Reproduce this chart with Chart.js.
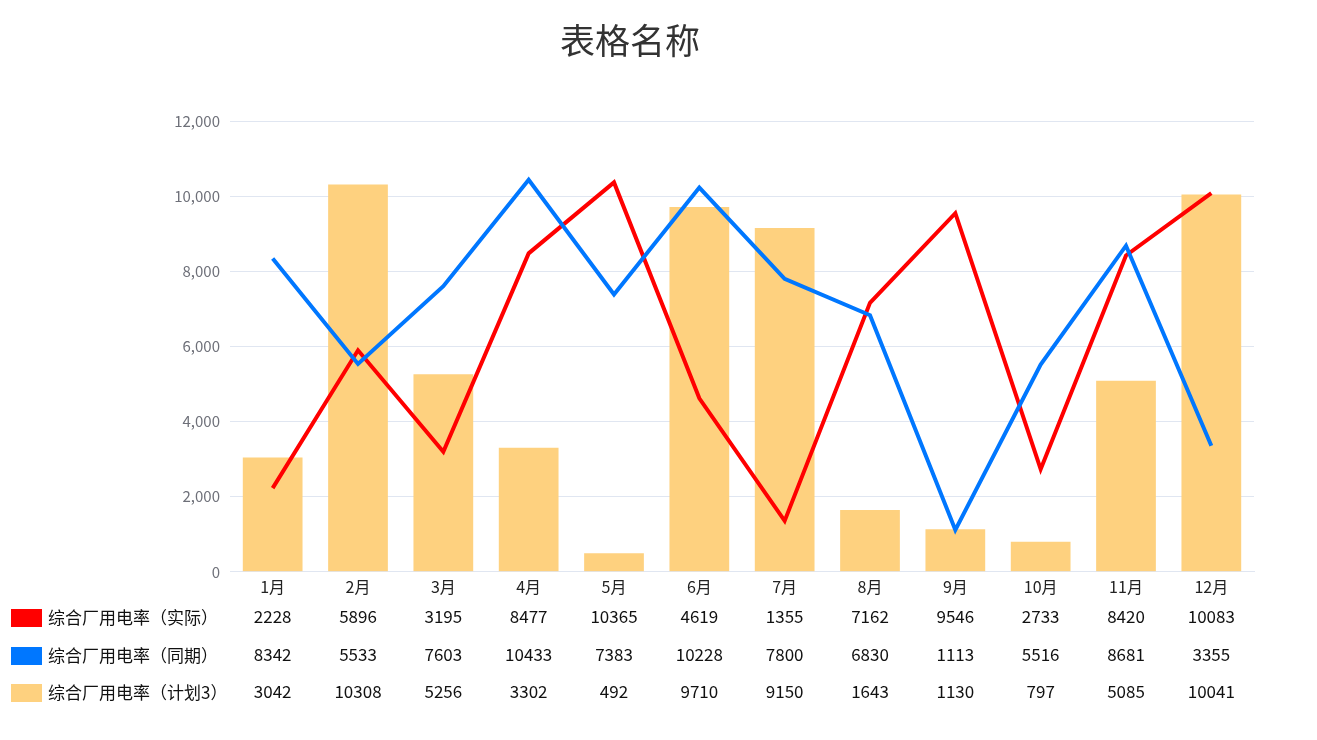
<!DOCTYPE html>
<html>
<head>
<meta charset="utf-8">
<script src="https://cdn.jsdelivr.net/npm/chart.js@4/dist/chart.umd.min.js"></script>
<style>
html,body{margin:0;padding:0;background:#fff;}
#wrap{width:1317px;height:740px;position:relative;}
</style>
</head>
<body>
<div id="wrap"><canvas id="c" width="1317" height="740"></canvas></div>
<script>
const titleText = '表格名称';
const months = ['1月','2月','3月','4月','5月','6月','7月','8月','9月','10月','11月','12月'];
const seriesNames = ['综合厂用电率（实际）','综合厂用电率（同期）','综合厂用电率（计划3）'];
const actualValues = [2228, 5896, 3195, 8477, 10365, 4619, 1355, 7162, 9546, 2733, 8420, 10083];
const samePeriodValues = [8342, 5533, 7603, 10433, 7383, 10228, 7800, 6830, 1113, 5516, 8681, 3355];
const plan3Values = [3042, 10308, 5256, 3302, 492, 9710, 9150, 1643, 1130, 797, 5085, 10041];
const yMax = 12000;
const yStep = 2000;

const FONT = '"Noto Sans CJK SC", "Noto Sans", sans-serif';
const RED = '#ff0000', BLUE = '#0077ff', YEL = '#fed17f';

const tablePlugin = {
  id: 'tablePlugin',
  afterDraw(chart) {
    const ctx = chart.ctx;
    const xs = chart.scales.x;
    ctx.save();
    ctx.fillStyle = '#333';
    ctx.font = '35px ' + FONT;
    ctx.textAlign = 'center';
    ctx.textBaseline = 'middle';
    ctx.fillText(titleText, 630, 41);
    const rows = [
      {name: seriesNames[0], color: RED, vals: actualValues, y: 618},
      {name: seriesNames[1], color: BLUE, vals: samePeriodValues, y: 656},
      {name: seriesNames[2], color: YEL, vals: plan3Values, y: 693}
    ];
    rows.forEach(r => {
      ctx.fillStyle = r.color;
      ctx.fillRect(11, r.y - 9, 31, 18);
      ctx.fillStyle = '#111';
      ctx.font = '17px ' + FONT;
      ctx.textAlign = 'left';
      ctx.textBaseline = 'middle';
      ctx.fillText(r.name, 48, r.y);
      ctx.textAlign = 'center';
      r.vals.forEach((v, i) => {
        ctx.fillText(String(v), xs.getPixelForValue(i), r.y - 1);
      });
    });
    ctx.restore();
  }
};

new Chart(document.getElementById('c'), {
  type: 'bar',
  data: {
    labels: months,
    datasets: [
      {type: 'line', label: seriesNames[0], data: actualValues, borderColor: RED, backgroundColor: RED,
       borderWidth: 4, pointRadius: 0, tension: 0, order: 2},
      {type: 'line', label: seriesNames[1], data: samePeriodValues, borderColor: BLUE, backgroundColor: BLUE,
       borderWidth: 4, pointRadius: 0, tension: 0, order: 1},
      {type: 'bar', label: seriesNames[2], data: plan3Values, backgroundColor: YEL,
       barPercentage: 0.7, categoryPercentage: 1.0, order: 3}
    ]
  },
  options: {
    responsive: false,
    animation: false,
    layout: {padding: {left: 150, right: 63, top: 121, bottom: 137}},
    plugins: {legend: {display: false}, title: {display: false}, tooltip: {enabled: false}},
    scales: {
      x: {
        grid: {display: false, drawTicks: false},
        border: {display: true, color: '#e0e6f1', width: 1},
        ticks: {color: '#222', font: {family: FONT, size: 16}, padding: 6, maxRotation: 0}
      },
      y: {
        min: 0, max: yMax,
        afterFit: s => { s.width = 80; },
        grid: {color: '#e0e6f1', drawTicks: false},
        border: {display: false},
        ticks: {stepSize: yStep, color: '#6e7079', font: {family: FONT, size: 15}, padding: 10,
          callback: v => v.toLocaleString('en-US')}
      }
    }
  },
  plugins: [tablePlugin]
});
</script>
</body>
</html>
